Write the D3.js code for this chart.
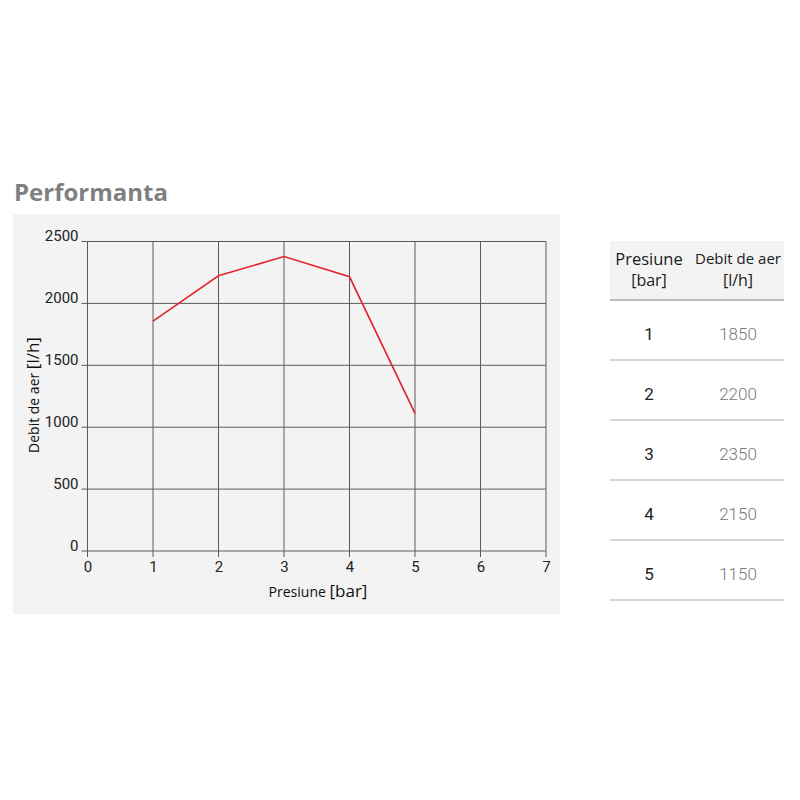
<!DOCTYPE html>
<html lang="ro">
<head>
<meta charset="UTF-8">
<script src="https://d3js.org/d3.v7.min.js"></script>
<title>Performanta</title>
<style>
    body { margin: 0; background: #fff; }
    svg { display: block; }
</style>
</head>
<body>
<script>
    // chart data
    const pressure = [1, 2, 3, 4, 5];
    const flow = [1857, 2223, 2379, 2215, 1112];

    // table data
    const tablePressure = ['1', '2', '3', '4', '5'];
    const tableFlow = ['1850', '2200', '2350', '2150', '1150'];

    const xTicks = [0, 1, 2, 3, 4, 5, 6, 7];
    const yTicks = [0, 500, 1000, 1500, 2000, 2500];

    const svg = d3.select('body').append('svg')
        .attr('width', 800)
        .attr('height', 800);

    // title
    svg.append('text')
        .attr('x', 14).attr('y', 201)
        .style('font-family', '"Open Sans", sans-serif')
        .style('font-weight', 700)
        .style('font-size', '24px')
        .style('fill', '#7f7f7f')
        .text('Performanta');

    // chart panel
    svg.append('rect')
        .attr('x', 13).attr('y', 214)
        .attr('width', 547).attr('height', 400)
        .attr('fill', '#f3f3f3');

    const x = d3.scaleLinear().domain([0, 7]).range([87.5, 546]);
    const y = d3.scaleLinear().domain([0, 2500]).range([551, 241.5]);

    const grid = svg.append('g');
    grid.selectAll('line.v').data(xTicks).join('line')
        .attr('class', 'v')
        .attr('x1', d => x(d)).attr('x2', d => x(d))
        .attr('y1', y(2500)).attr('y2', y(0) + 6)
        .attr('stroke', '#5a5a5a').attr('stroke-width', 1);
    grid.selectAll('line.h').data(yTicks).join('line')
        .attr('class', 'h')
        .attr('x1', x(0) - 6).attr('x2', x(7))
        .attr('y1', d => y(d)).attr('y2', d => y(d))
        .attr('stroke', '#5a5a5a').attr('stroke-width', 1);

    // axes (labels only, lines come from the grid)
    const xAxis = svg.append('g')
        .attr('transform', `translate(0,${y(0)})`)
        .call(d3.axisBottom(x).tickValues(xTicks).tickSize(0).tickPadding(10).tickFormat(d3.format('d')));
    xAxis.select('.domain').remove();

    const yAxis = svg.append('g')
        .attr('transform', `translate(${x(0)},0)`)
        .call(d3.axisLeft(y).tickValues(yTicks).tickSize(0).tickPadding(9).tickFormat(d3.format('d')));
    yAxis.select('.domain').remove();
    yAxis.selectAll('.tick text').attr('dy', '-0.05em');

    svg.selectAll('.tick text')
        .style('font-family', 'Roboto, sans-serif')
        .style('font-size', '15px')
        .style('fill', '#222');

    // line
    const line = d3.line()
        .x((d, i) => x(pressure[i]))
        .y(d => y(d));
    svg.append('path')
        .datum(flow)
        .attr('d', line)
        .attr('fill', 'none')
        .attr('stroke', '#e3232b')
        .attr('stroke-width', 1.6);

    // axis titles
    const xt = svg.append('text')
        .attr('x', 318).attr('y', 597)
        .attr('text-anchor', 'middle')
        .style('font-family', '"Open Sans", sans-serif')
        .style('font-size', '14px')
        .style('fill', '#111');
    xt.append('tspan').text('Presiune ');
    xt.append('tspan').style('font-size', '17px').text('[bar]');

    const yt = svg.append('text')
        .attr('transform', 'translate(39,395) rotate(-90)')
        .attr('text-anchor', 'middle')
        .style('font-family', '"Open Sans", sans-serif')
        .style('font-size', '14px')
        .style('fill', '#111');
    yt.append('tspan').text('Debit de aer ');
    yt.append('tspan').style('font-size', '17px').text('[l/h]');

    // table
    const colP = 649, colF = 738;
    const tbl = svg.append('g');
    tbl.append('rect')
        .attr('x', 610).attr('y', 241)
        .attr('width', 174).attr('height', 58)
        .attr('fill', '#f3f3f3');

    const head = (cx, yy, txt, size) => tbl.append('text')
        .attr('x', cx).attr('y', yy)
        .attr('text-anchor', 'middle')
        .style('font-family', '"Open Sans", sans-serif')
        .style('font-size', size)
        .style('fill', '#1a1a1a')
        .text(txt);
    head(colP, 265, 'Presiune', '16.5px');
    head(colP, 286, '[bar]', '16px');
    head(colF, 264, 'Debit de aer', '15px');
    head(colF, 286, '[l/h]', '16px');

    tbl.append('line')
        .attr('x1', 610).attr('x2', 784)
        .attr('y1', 300).attr('y2', 300)
        .attr('stroke', '#bdbdbd').attr('stroke-width', 2);

    const rows = d3.scaleBand().domain(tablePressure).range([300, 600]);

    tbl.selectAll('line.sep').data(tablePressure).join('line')
        .attr('class', 'sep')
        .attr('x1', 610).attr('x2', 784)
        .attr('y1', d => rows(d) + rows.bandwidth())
        .attr('y2', d => rows(d) + rows.bandwidth())
        .attr('stroke', '#c8c8c8').attr('stroke-width', 1.5);

    tbl.selectAll('text.p').data(tablePressure).join('text')
        .attr('class', 'p')
        .attr('x', colP)
        .attr('y', d => rows(d) + 40)
        .attr('text-anchor', 'middle')
        .style('font-family', 'Roboto, sans-serif')
        .style('font-size', '17px')
        .style('fill', '#222')
        .text(d => d);

    tbl.selectAll('text.f').data(tableFlow).join('text')
        .attr('class', 'f')
        .attr('x', colF)
        .attr('y', (d, i) => rows(tablePressure[i]) + 40)
        .attr('text-anchor', 'middle')
        .style('font-family', 'Roboto, sans-serif')
        .style('font-weight', 300)
        .style('font-size', '17px')
        .style('fill', '#7a7a7a')
        .text(d => d);
</script>
</body>
</html>
